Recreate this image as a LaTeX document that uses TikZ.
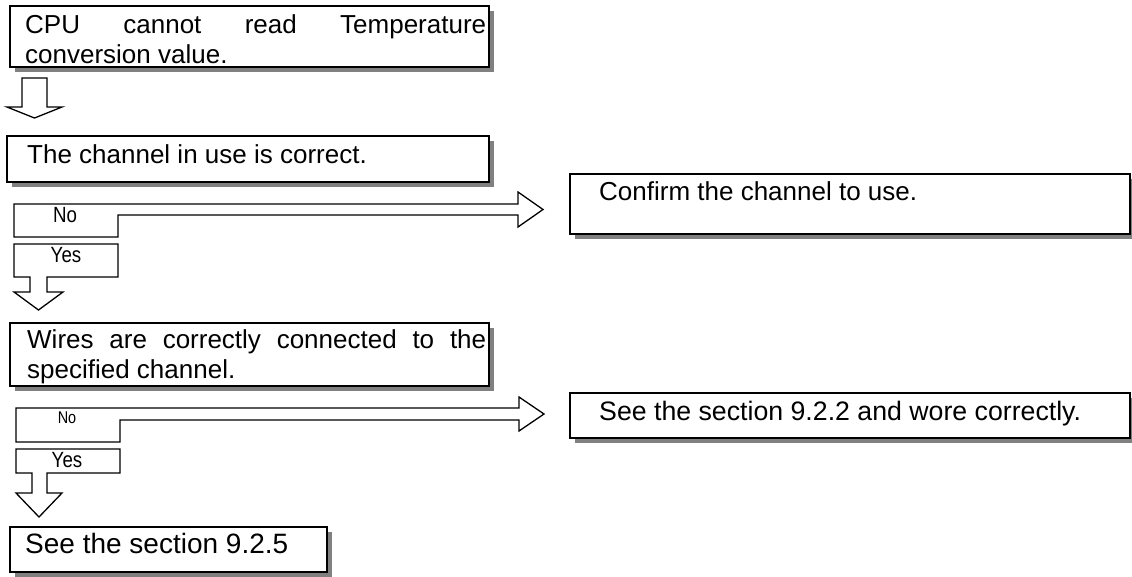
\documentclass[tikz,border=0pt]{standalone}
\usepackage{fontspec}
\setmainfont{Liberation Sans}
\newfontfamily\narrowfont[FakeStretch=0.85]{Liberation Sans}
\usetikzlibrary{shadows,calc}
\begin{document}
\begin{tikzpicture}[x=1pt,y=-1pt,
  box/.style={draw=black, line width=1.8pt, fill=white,
    drop shadow={shadow xshift=5pt, shadow yshift=-5pt, fill=black!50, opacity=1},
    anchor=north west, inner sep=0pt, outer sep=0pt},
  txt/.style={anchor=base west, inner sep=0pt, font=\fontsize{26}{30}\selectfont},
  blk/.style={draw=black, line width=1.3pt, fill=white, line join=miter},
  lblA/.style={anchor=base, inner sep=0pt, font=\fontsize{22}{24}\narrowfont},
  lblB/.style={anchor=base, inner sep=0pt, font=\fontsize{17}{19}\narrowfont}]
\useasboundingbox (0,0) rectangle (1132,576);

% boxes
\node[box, minimum width=479pt, minimum height=61pt] (b1) at (10,6) {};
\node[box, minimum width=482pt, minimum height=46pt] (b2) at (7,136) {};
\node[box, minimum width=479pt, minimum height=63pt] (b3) at (10,323) {};
\node[box, minimum width=317pt, minimum height=45pt] (b5) at (10,527) {};
\node[box, minimum width=560pt, minimum height=60pt] (r1) at (570,174) {};
\node[box, minimum width=560pt, minimum height=45pt] (r2) at (570,393) {};

% texts
\node[txt] (t1a) at ($(b1.north west)+(15,27)$) {\makebox[461pt][s]{CPU cannot read Temperature}};
\node[txt] (t1b) at ($(b1.north west)+(15,57)$) {conversion value.};
\node[txt] (t2) at ($(b2.north west)+(20,27)$) {The channel in use is correct.};
\node[txt] (t3a) at ($(b3.north west)+(17,25)$) {\makebox[459pt][s]{Wires are correctly connected to the}};
\node[txt] (t3b) at ($(b3.north west)+(17,55)$) {specified channel.};
\node[txt, font=\fontsize{28}{30}\selectfont] (t5) at ($(b5.north west)+(15,26)$) {See the section 9.2.5};
\node[txt] (tr1) at ($(r1.north west)+(29,26)$) {Confirm the channel to use.};
\node[txt, font=\fontsize{26.7}{30}\selectfont] (tr2) at ($(r2.north west)+(29,27)$) {See the section 9.2.2 and wore correctly.};

% block arrow from b1 to b2
\draw[blk] (22,78) -- (47,78) -- (47,107) -- (62,107) -- (34.5,118) -- (7,107) -- (22,107) -- cycle;

% No arrow 1
\draw[blk] (14,204) -- (518,204) -- (518,192) -- (543,209.5) -- (518,227) -- (518,215)
  -- (118,215) -- (118,237) -- (14,237) -- cycle;
% Yes arrow 1
\draw[blk] (14,244) -- (118,244) -- (118,277) -- (47,277) -- (47,292) -- (63,292)
  -- (38.5,310) -- (14,292) -- (30,292) -- (30,277) -- (14,277) -- cycle;
% No arrow 2
\draw[blk] (16,408) -- (519,408) -- (519,397) -- (544,414) -- (519,431) -- (519,420)
  -- (120,420) -- (120,442) -- (16,442) -- cycle;
% Yes arrow 2
\draw[blk] (16,449) -- (120,449) -- (120,473) -- (47,473) -- (47,493) -- (62,493)
  -- (39,517) -- (16,493) -- (32,493) -- (32,473) -- (16,473) -- cycle;

% labels
\node[lblA] (no1) at (65,222) {No};
\node[lblA] (yes1) at (66,262) {Yes};
\node[lblB] (no2) at (67,423) {No};
\node[lblA] (yes2) at (67,467) {Yes};
\end{tikzpicture}
\end{document}
